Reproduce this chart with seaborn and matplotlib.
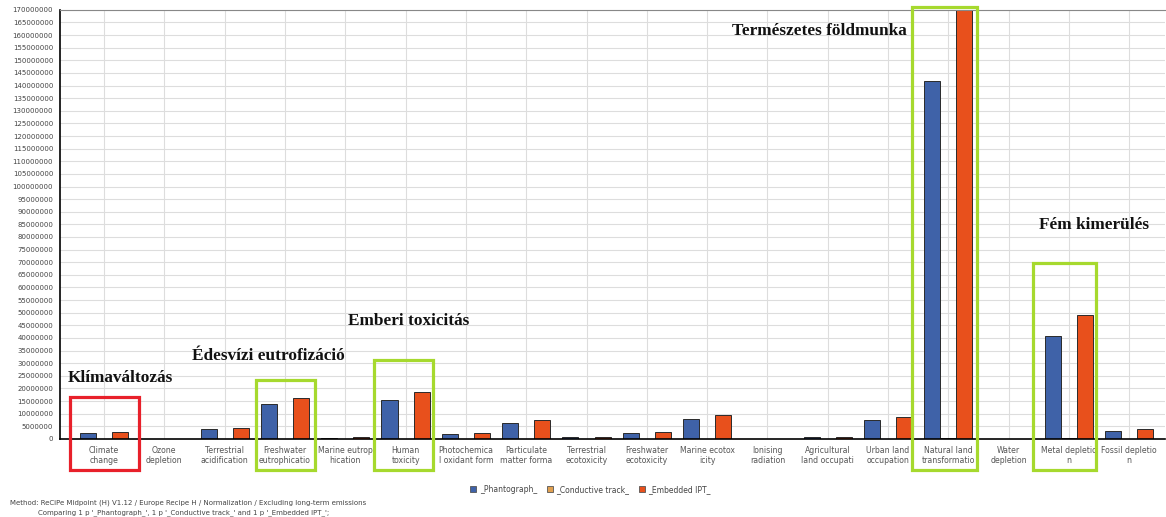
import matplotlib
matplotlib.use("Agg")
import matplotlib.pyplot as plt
import matplotlib.patches as mpatches
import numpy as np
import pandas as pd
import seaborn as sns

categories = ["Climate\nchange", "Ozone\ndepletion", "Terrestrial\nacidification",
              "Freshwater\neutrophicatio", "Marine eutrop\nhication", "Human\ntoxicity",
              "Photochemica\nl oxidant form", "Particulate\nmatter forma", "Terrestrial\necotoxicity",
              "Freshwater\necotoxicity", "Marine ecotox\nicity", "Ionising\nradiation",
              "Agricultural\nland occupati", "Urban land\noccupation", "Natural land\ntransformatio",
              "Water\ndepletion", "Metal depletio\nn", "Fossil depletio\nn"]
series = ["_Phantograph_", "_Conductive track_", "_Embedded IPT_"]
phantograph = [2.2e6, 0.1e6, 3.9e6, 13.8e6, 0.3e6, 15.5e6, 2.0e6, 6.3e6, 0.8e6,
               2.3e6, 7.9e6, 0.1e6, 0.6e6, 7.4e6, 141.7e6, 0.1e6, 40.8e6, 3.3e6]
conductive = [0.05e6, 0.01e6, 0.05e6, 0.1e6, 0.01e6, 0.1e6, 0.02e6, 0.05e6, 0.01e6,
              0.02e6, 0.05e6, 0.01e6, 0.01e6, 0.05e6, 0.3e6, 0.01e6, 0.2e6, 0.03e6]
embedded = [2.6e6, 0.1e6, 4.5e6, 16.1e6, 0.7e6, 18.5e6, 2.2e6, 7.4e6, 0.7e6,
            2.8e6, 9.5e6, 0.1e6, 0.6e6, 8.7e6, 169.8e6, 0.1e6, 49.2e6, 4.1e6]
colors = ["#3F62A8", "#E0A050", "#E8501C"]

# annotations: (text, category index, box top value, box half widths, label x (cat units), label y value, color)
highlights = [
    ("Klímaváltozás", 0, 16.7e6, (-0.57, 0.58), -0.6, 24.3e6, "#E8202A"),
    ("Édesvízi eutrofizáció", 3, 23.4e6, (-0.48, 0.5), -1.55, 32.8e6, "#A6D92E"),
    ("Emberi toxicitás", 5, 31.3e6, (-0.52, 0.45), -0.95, 46.6e6, "#A6D92E"),
    ("Természetes földmunka", 14, 171.0e6, (-0.6, 0.48), -3.58, 161.8e6, "#A6D92E"),
    ("Fém kimerülés", 16, 69.8e6, (-0.6, 0.45), -0.5, 84.6e6, "#A6D92E"),
]

df = pd.DataFrame({
    "category": np.repeat(categories, 3),
    "series": series * len(categories),
    "value": np.ravel(np.column_stack([phantograph, conductive, embedded])),
})

sns.set_style("white")
fig = plt.figure(figsize=(11.66, 5.17), dpi=100)
ax = fig.add_axes([0.0515, 0.151, 0.948, 0.830])

sns.barplot(data=df, x="category", y="value", hue="series", hue_order=series,
            palette=colors, saturation=1, width=0.8, gap=0.0, edgecolor="#2a2a2a",
            linewidth=0.7, ax=ax, legend=False)

ax.set_ylim(0, 170e6)
ax.set_xlim(-0.73, 17.6)
ticks = np.arange(0, 170e6 + 1, 5e6)
ax.set_yticks(ticks)
ax.set_yticklabels([f"{int(v)}" for v in ticks], fontsize=5.0, color="#444444")
ax.tick_params(axis="x", labelsize=5.6, labelcolor="#555555", length=0, pad=5)
ax.tick_params(axis="y", length=3, width=0.6, color="#666666", pad=2)
ax.set_xlabel("")
ax.set_ylabel("")
ax.grid(True, axis="both", color="#DDDDDD", linewidth=0.8)
ax.set_axisbelow(True)
for s in ["left", "bottom"]:
    ax.spines[s].set_color("black")
    ax.spines[s].set_linewidth(1.2)
ax.spines["top"].set_color("#888888")
ax.spines["right"].set_visible(False)

handles = [mpatches.Patch(facecolor=c, edgecolor="#555555", linewidth=0.6) for c in colors]
leg = ax.legend(handles, series, loc="center", bbox_to_anchor=(0.48, -0.117), ncol=3,
                frameon=False, fontsize=5.5, handlelength=0.8, handleheight=0.8,
                columnspacing=1.2, handletextpad=0.5)
for t in leg.get_texts():
    t.set_color("#444444")

for text, idx, top, (l, r), lx, ly, col in highlights:
    bottom = -12.3e6
    rect = mpatches.Rectangle((idx + l, bottom), r - l, top - bottom, fill=False,
                              edgecolor=col, linewidth=2.3, clip_on=False, zorder=5)
    ax.add_patch(rect)
    ax.text(idx + lx, ly, text, fontsize=12.4, fontweight="bold", family="Liberation Serif",
            color="#111111", ha="left", va="center", zorder=6)

fig.text(0.009, 0.027, "Method: ReCiPe Midpoint (H) V1.12 / Europe Recipe H / Normalization / Excluding long-term emissions",
         fontsize=5, color="#444444", ha="left", va="center")
fig.text(0.033, 0.009, "Comparing 1 p '_Phantograph_', 1 p '_Conductive track_' and 1 p '_Embedded IPT_';",
         fontsize=5, color="#444444", ha="left", va="center")

fig.savefig("out.png", dpi=100)
